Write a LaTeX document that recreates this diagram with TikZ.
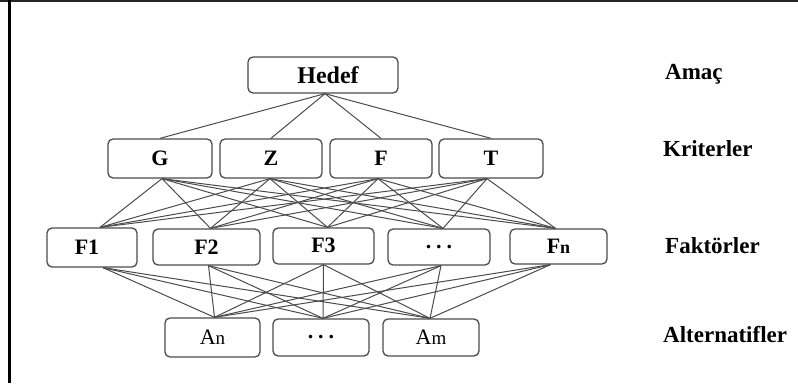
\documentclass[tikz,border=0pt]{standalone}
\usepackage{fontspec}
\setmainfont{Liberation Serif}
\begin{document}
\begin{tikzpicture}[x=1pt,y=-1pt,
  box/.style={draw=black!70,line width=1.3pt,rounded corners=5pt,inner sep=0pt,font=\fontsize{22}{24}\selectfont\bfseries},
  link/.style={draw=black!70,line width=1pt},
  lvl/.style={anchor=base west,inner sep=0pt,font=\fontsize{23}{26}\selectfont\bfseries}]
\useasboundingbox (0,0) rectangle (798,387);
\fill[white] (0,0) rectangle (798,387);
% frame
\draw[line width=2.5pt,black!85] (0,1.2) -- (798,1.2);
\draw[line width=3pt,black] (9.8,0) -- (9.8,383);
% goal
\node[box,minimum width=150pt,minimum height=36pt,font=\fontsize{24}{26}\selectfont\bfseries] (H) at (323,75) {\hspace{10pt}Hedef};
% criteria
\node[box,minimum width=104pt,minimum height=39pt] (G) at (160,158.5) {G};
\node[box,minimum width=102pt,minimum height=39pt] (Z) at (271,158.5) {Z};
\node[box,minimum width=102pt,minimum height=39pt] (F) at (381,158.5) {F};
\node[box,minimum width=104pt,minimum height=39pt] (T) at (491,158.5) {T};
% factors
\node[box,minimum width=90pt,minimum height=39pt] (F1) at (92,247.5) {\hspace{-10pt}F1};
\node[box,minimum width=107pt,minimum height=36pt] (F2) at (206.5,247) {\raisebox{-2pt}{F2}};
\node[box,minimum width=101pt,minimum height=36pt] (F3) at (323.5,246) {\raisebox{2pt}{F3}};
\node[box,minimum width=102pt,minimum height=36pt] (FD) at (439,247) {\raisebox{-3pt}{.\hspace{5pt}.\hspace{5pt}.}};
\node[box,minimum width=97pt,minimum height=35pt] (Fn) at (558.5,246.5) {\raisebox{-2pt}{F{\fontsize{18}{20}\selectfont n}}};
% alternatives
\node[box,minimum width=95pt,minimum height=39pt,font=\fontsize{22}{24}\selectfont] (An) at (212.5,337.5) {A{\fontsize{19}{20}\selectfont n}};
\node[box,minimum width=96pt,minimum height=37pt] (AD) at (321,337.5) {\raisebox{-3pt}{.\hspace{5pt}.\hspace{5pt}.}};
\node[box,minimum width=96pt,minimum height=37pt,font=\fontsize{22}{24}\selectfont] (Am) at (431,337.5) {A{\fontsize{19}{20}\selectfont m}};
% level labels
\node[lvl] (L1) at (665,80) {Amaç};
\node[lvl] (L2) at (663,157) {Kriterler};
\node[lvl] (L3) at (665,254) {Faktörler};
\node[lvl] (L4) at (663,342) {Alternatifler};
% goal -> criteria
\foreach \c in {G,Z,F,T} \draw[link] ([xshift=2pt]H.south) -- (\c.north);
% criteria -> factors
\foreach \c/\cs in {G/2,Z/-1,F/-3,T/-4}
  \foreach \f/\fs in {F1/8,F2/4,F3/4,FD/4,Fn/-3}
    \draw[link] ([xshift=\cs pt]\c.south) -- ([xshift=\fs pt]\f.north);
% factors -> alternatives
\foreach \f/\fs in {F1/11,F2/2,F3/0,FD/2,Fn/-8}
  \foreach \a/\as in {An/2,AD/2,Am/-1}
    \draw[link] ([xshift=\fs pt]\f.south) -- ([xshift=\as pt]\a.north);
\end{tikzpicture}
\end{document}
